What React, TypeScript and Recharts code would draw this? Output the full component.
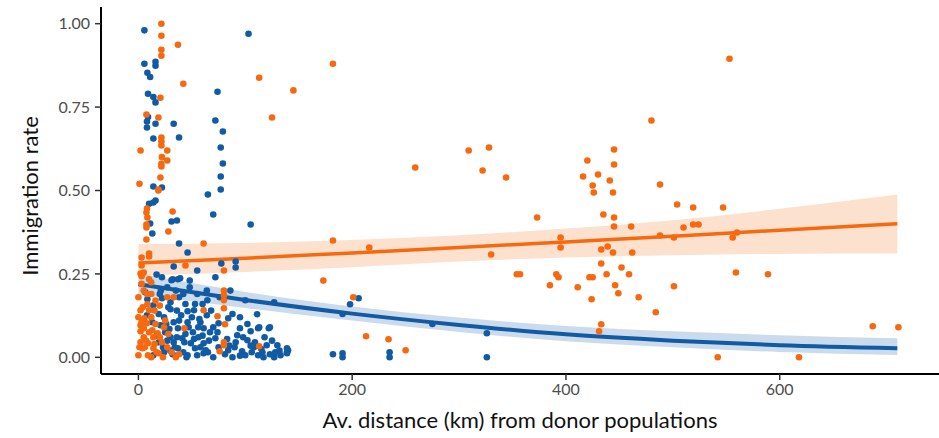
import { ComposedChart, Scatter, Area, Line, XAxis, YAxis, Label } from 'recharts';

// fitted curves (read at these distances)
const fitX = [0, 100, 200, 300, 400, 500, 600, 710];
const blueFit = [0.219, 0.172, 0.131, 0.097, 0.069, 0.05, 0.036, 0.027];
const blueLo = [0.188, 0.148, 0.11, 0.076, 0.048, 0.03, 0.016, 0.007];
const blueHi = [0.252, 0.196, 0.152, 0.119, 0.094, 0.078, 0.066, 0.057];
const orangeFit = [0.283, 0.297, 0.313, 0.329, 0.346, 0.363, 0.381, 0.4];
const orangeLo = [0.245, 0.256, 0.27, 0.287, 0.299, 0.306, 0.31, 0.311];
const orangeHi = [0.34, 0.343, 0.352, 0.366, 0.386, 0.411, 0.445, 0.488];

const xTicks = [0, 200, 400, 600];
const yTicks = [0, 0.25, 0.5, 0.75, 1];

// [distance km, immigration rate]
const bluePoints: [number, number][] = [
  [5.6, 0.98], [103, 0.97], [5.6, 0.88], [16, 0.886], [16, 0.874], [8.4, 0.853], [11, 0.84],
  [9, 0.79], [14, 0.78], [16, 0.764], [74, 0.796], [9, 0.72], [8, 0.707], [16, 0.7], [8, 0.689],
  [33, 0.7], [72, 0.71], [79, 0.677], [14, 0.656], [38, 0.659], [77, 0.629], [79, 0.581],
  [77, 0.542], [77, 0.503], [14, 0.512], [22, 0.509], [65, 0.488], [16, 0.47], [14, 0.464],
  [10, 0.46], [70, 0.428], [31, 0.407], [36, 0.41], [11, 0.401], [105, 0.398], [13, 0.371],
  [38, 0.341], [46, 0.314], [33, 0.272], [55, 0.26], [77.6, 0.281], [91, 0.287], [91, 0.269],
  [17, 0.248], [22, 0.24], [39, 0.237], [32, 0.234], [31, 0.231], [72, 0.24], [37, 0.234],
  [6.5, 0.195], [8.4, 0.174], [22, 0.177], [38, 0.18], [30, 0.165], [14, 0.156], [30, 0.144],
  [46, 0.138], [52, 0.141], [8, 0.126], [24, 0.12], [40, 0.126], [50, 0.12], [64, 0.126],
  [20.6, 0.096], [33, 0.105], [46, 0.105], [58, 0.105], [25, 0.075], [37, 0.087], [51, 0.075],
  [61, 0.087], [30, 0.06], [41, 0.057], [56, 0.06], [19, 0.045], [33, 0.045], [49, 0.042],
  [61, 0.042], [23, 0.03], [37, 0.027], [53, 0.027], [63, 0.021], [14, 0.006], [32, 0.009],
  [46, 0.006], [55, 0.006], [61, 0.012], [13, 0.105], [86, 0.2], [100, 0.171], [127, 0.165],
  [64.5, 0.171], [84, 0.117], [111, 0.129], [75, 0.102], [95, 0.087], [105, 0.078], [112, 0.087],
  [122, 0.087], [67, 0.075], [92.5, 0.066], [72, 0.057], [91, 0.045], [102, 0.051], [109, 0.045],
  [120, 0.036], [130, 0.036], [139, 0.027], [65, 0.015], [84, 0.021], [97, 0.018], [106, 0.015],
  [116, 0.015], [128, 0.015], [139, 0.015], [81, 0.009], [100, 0.006], [112, 0.006], [123, 0.009],
  [133, 0.006], [140, 0.021], [123, 0.09], [113, 0.09], [27, 0.21], [35, 0.2], [42, 0.19],
  [48, 0.21], [55, 0.19], [20, 0.19], [28, 0.15], [36, 0.14], [44, 0.16], [26, 0.1], [38, 0.11],
  [56, 0.09], [27, 0.05], [44, 0.07], [52, 0.055], [17, 0.065], [30, 0.02], [42, 0.015], [58, 0.03],
  [66, 0.05], [70, 0.09], [88, 0.13], [95, 0.12], [102, 0.1], [118, 0.06], [125, 0.05], [90, 0.03],
  [108, 0.03], [132, 0.02], [60, 0.16], [68, 0.14], [198, 0.159], [206, 0.177], [191, 0.13],
  [275, 0.1], [326, 0.072], [326, 0.0], [182, 0.009], [191, 0.012], [191, 0.0], [235, 0.015],
  [235, 0.0], [139, 0.012],
  [45, 0.0], [70, 0.0], [85, 0.035], [95, 0.005], [75, 0.03], [60, 0.065], [47, 0.09], [53, 0.16],
  [64, 0.2], [76, 0.18], [43, 0.045], [34, 0.03], [24, 0.015], [19, 0.13], [57, 0.115], [83, 0.055],
  [105, 0.035], [115, 0.025], [117, 0.0], [127, 0.0], [88, 0.0], [98, 0.06], [74, 0.075], [36, 0.06],
  [29, 0.085], [21, 0.2], [48, 0.23],
];

const orangePoints: [number, number][] = [
  [21.5, 1.0], [21.5, 0.964], [37, 0.937], [21.5, 0.922], [21.5, 0.904], [182, 0.88], [113, 0.838],
  [42, 0.82], [145, 0.8], [20.6, 0.778], [7.5, 0.728], [18.7, 0.719], [125, 0.719], [21.5, 0.659],
  [21.5, 0.647], [21.5, 0.635], [2, 0.62], [27, 0.62], [22, 0.6], [27, 0.59], [21.5, 0.58],
  [21.5, 0.572], [20.6, 0.539], [1, 0.52], [18.7, 0.503], [18.7, 0.5], [8, 0.446], [7.5, 0.434],
  [8.4, 0.419], [32, 0.437], [7.5, 0.398], [7.5, 0.389], [28, 0.377], [7.5, 0.353], [61, 0.341],
  [10, 0.311], [10, 0.302], [3, 0.299], [3, 0.275], [44, 0.275], [2, 0.251], [5, 0.254],
  [80, 0.26], [3, 0.243], [10, 0.234], [27, 0.18], [33, 0.18], [8.4, 0.159], [2, 0.141],
  [10, 0.141], [61, 0.141], [2, 0.096], [8, 0.102], [43, 0.087], [2, 0.078], [13, 0.081],
  [5, 0.06], [14, 0.06], [2, 0.045], [9, 0.042], [4, 0.027], [14, 0.027], [0, 0.006], [9, 0.006],
  [19, 0.012], [23, 0.0], [38, 0.009], [5.6, 0.117], [5, 0.087], [18, 0.072], [22, 0.045],
  [80, 0.2], [80, 0.186], [80, 0.171], [80, 0.147], [74, 0.123], [81, 0.099], [80, 0.045],
  [80, 0.036], [113, 0.033], [76, 0.018], [0, 0.18], [5, 0.2], [12, 0.19], [16, 0.17], [4, 0.15],
  [12, 0.12], [16, 0.1], [0, 0.12], [6, 0.03], [10, 0.075], [25, 0.11], [17, 0.015], [27, 0.03],
  [35, 0.0], [3, 0.22], [12, 0.225],
  [1, 0.03], [7, 0.05], [12, 0.0], [15, 0.04], [20, 0.06], [24, 0.09], [3, 0.105], [8, 0.19],
  [15, 0.14], [20, 0.155], [28, 0.07], [31, 0.015],
  [259, 0.569], [309, 0.62], [328, 0.629], [322, 0.56], [344, 0.539], [182, 0.35], [216, 0.329],
  [330, 0.308], [173, 0.23], [354, 0.249], [201, 0.18], [213, 0.063], [234, 0.054], [250, 0.021],
  [553, 0.895], [480, 0.71], [445, 0.623], [445, 0.578], [420, 0.59], [416, 0.542], [430, 0.548],
  [425, 0.515], [441, 0.53], [426, 0.494], [444, 0.494], [488, 0.518], [373, 0.419], [435, 0.428],
  [445, 0.419], [504, 0.458], [519, 0.449], [547, 0.449], [445, 0.392], [461, 0.392], [510, 0.389],
  [519, 0.398], [524, 0.398], [395, 0.359], [395, 0.329], [488, 0.365], [501, 0.359], [556, 0.359],
  [560, 0.374], [433, 0.323], [439, 0.332], [444, 0.314], [462, 0.314], [433, 0.281], [452, 0.269],
  [357, 0.249], [391, 0.249], [393, 0.24], [422, 0.24], [425, 0.24], [438, 0.249], [459, 0.249],
  [559, 0.254], [589, 0.249], [385, 0.216], [411, 0.21], [446, 0.216], [501, 0.213], [449, 0.192],
  [468, 0.18], [424, 0.174], [484, 0.135], [433, 0.099], [431, 0.078], [542, 0.0], [618, 0.0],
  [687, 0.093], [711, 0.09],
];

const BLUE = '#115ba5';
const ORANGE = '#f7690f';

const blueData = bluePoints.map(([x, y]) => ({ x, y }));
const orangeData = orangePoints.map(([x, y]) => ({ x, y }));
const blueCurve = fitX.map((x, i) => ({ x, y: blueFit[i], band: [blueLo[i], blueHi[i]] }));
const orangeCurve = fitX.map((x, i) => ({ x, y: orangeFit[i], band: [orangeLo[i], orangeHi[i]] }));

const dot = (color: string) => (p: any) => <circle cx={p.cx} cy={p.cy} r={3.3} fill={color} />;

const tickStyle = { fill: '#4d4d4d', fontSize: 16, fontFamily: 'Lato' };

export default function App() {
  return (
    <div style={{ position: 'absolute', left: 0, top: 0, width: 939, height: 438, background: '#fff' }}>
      <ComposedChart width={939} height={438} margin={{ top: 7, right: 0, bottom: 0, left: 0 }}>
        <XAxis
          type="number"
          dataKey="x"
          domain={[-35, 749]}
          ticks={xTicks}
          allowDataOverflow
          height={64}
          tick={tickStyle}
          tickSize={6}
          tickMargin={4}
          axisLine={{ stroke: '#000', strokeWidth: 2 }}
          tickLine={{ stroke: '#333', strokeWidth: 1.5 }}
        >
          <Label
            content={() => (
              <text x={520} y={428} textAnchor="middle" fontSize={22} fontFamily="Lato" fill="#111">
                Av. distance (km) from donor populations
              </text>
            )}
          />
        </XAxis>
        <YAxis
          type="number"
          dataKey="y"
          domain={[-0.05, 1.05]}
          ticks={yTicks}
          allowDataOverflow
          width={101}
          tickFormatter={(v: number) => v.toFixed(2)}
          tick={tickStyle}
          tickSize={6}
          tickMargin={5}
          axisLine={{ stroke: '#000', strokeWidth: 2 }}
          tickLine={{ stroke: '#333', strokeWidth: 1.5 }}
        >
          <Label
            content={() => (
              <text
                x={38}
                y={196}
                transform="rotate(-90 38 196)"
                textAnchor="middle"
                fontSize={22}
                fontFamily="Lato"
                fill="#111"
              >
                Immigration rate
              </text>
            )}
          />
        </YAxis>
        <Scatter data={blueData} dataKey="y" shape={dot(BLUE)} isAnimationActive={false} />
        <Scatter data={orangeData} dataKey="y" shape={dot(ORANGE)} isAnimationActive={false} />
        <Area
          data={orangeCurve}
          dataKey="band"
          type="monotone"
          stroke="none"
          fill={ORANGE}
          fillOpacity={0.2}
          isAnimationActive={false}
        />
        <Area
          data={blueCurve}
          dataKey="band"
          type="monotone"
          stroke="none"
          fill={BLUE}
          fillOpacity={0.22}
          isAnimationActive={false}
        />
        <Line data={orangeCurve} dataKey="y" type="monotone" stroke={ORANGE} strokeWidth={3.5} dot={false} isAnimationActive={false} />
        <Line data={blueCurve} dataKey="y" type="monotone" stroke={BLUE} strokeWidth={4} dot={false} isAnimationActive={false} />
      </ComposedChart>
    </div>
  );
}
